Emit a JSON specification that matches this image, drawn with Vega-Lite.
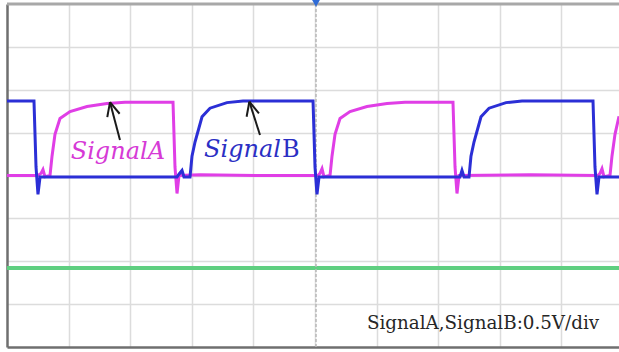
{
  "$schema": "https://vega.github.io/schema/vega-lite/v6.json",
  "width": 612,
  "height": 343,
  "autosize": {"type": "none"},
  "padding": {"left": 7, "top": 4, "right": 0, "bottom": 5},
  "background": "white",
  "config": {"view": {"stroke": null}},
  "datasets": {
    "sigA": [
      {"t": 0, "v": 0}, {"t": 0.503, "v": 0}, {"t": 0.552, "v": 0.05}, {"t": 0.584, "v": 0.14}, {"t": 0.617, "v": -0.03},
      {"t": 0.698, "v": 0}, {"t": 0.731, "v": 0.45}, {"t": 0.779, "v": 0.96}, {"t": 0.86, "v": 1.33}, {"t": 1.023, "v": 1.49},
      {"t": 1.299, "v": 1.61}, {"t": 1.623, "v": 1.68}, {"t": 1.916, "v": 1.71}, {"t": 2.695, "v": 1.71}, {"t": 2.727, "v": 0.2},
      {"t": 2.76, "v": -0.42}, {"t": 2.792, "v": 0}, {"t": 3.133, "v": 0.02}, {"t": 4.107, "v": 0}, {"t": 5.049, "v": 0},
      {"t": 5.081, "v": 0.05}, {"t": 5.114, "v": 0.16}, {"t": 5.146, "v": -0.03}, {"t": 5.244, "v": 0}, {"t": 5.276, "v": 0.45},
      {"t": 5.325, "v": 0.96}, {"t": 5.406, "v": 1.33}, {"t": 5.568, "v": 1.49}, {"t": 5.844, "v": 1.61}, {"t": 6.169, "v": 1.68},
      {"t": 6.461, "v": 1.71}, {"t": 7.24, "v": 1.71}, {"t": 7.273, "v": 0.2}, {"t": 7.305, "v": -0.42}, {"t": 7.338, "v": 0},
      {"t": 8.5, "v": 0.02}, {"t": 9.594, "v": 0}, {"t": 9.627, "v": 0.05}, {"t": 9.659, "v": 0.16}, {"t": 9.692, "v": -0.03},
      {"t": 9.789, "v": 0}, {"t": 9.821, "v": 0.45}, {"t": 9.87, "v": 0.96}, {"t": 9.935, "v": 1.38}
    ],
    "sigB": [
      {"t": 0, "v": 1.74}, {"t": 0.438, "v": 1.74}, {"t": 0.471, "v": 0.2}, {"t": 0.503, "v": -0.44}, {"t": 0.536, "v": -0.035},
      {"t": 2.76, "v": -0.035}, {"t": 2.792, "v": 0.03}, {"t": 2.841, "v": 0.12}, {"t": 2.873, "v": -0.035}, {"t": 2.971, "v": -0.035},
      {"t": 3.003, "v": 0.45}, {"t": 3.052, "v": 0.78}, {"t": 3.166, "v": 1.37}, {"t": 3.295, "v": 1.57}, {"t": 3.571, "v": 1.7},
      {"t": 3.831, "v": 1.74}, {"t": 4.968, "v": 1.74}, {"t": 5.0, "v": 0.2}, {"t": 5.032, "v": -0.44}, {"t": 5.065, "v": -0.035},
      {"t": 7.354, "v": -0.035}, {"t": 7.386, "v": 0.12}, {"t": 7.419, "v": -0.035}, {"t": 7.5, "v": -0.035}, {"t": 7.532, "v": 0.45},
      {"t": 7.581, "v": 0.78}, {"t": 7.695, "v": 1.37}, {"t": 7.825, "v": 1.57}, {"t": 8.101, "v": 1.7}, {"t": 8.36, "v": 1.74},
      {"t": 9.513, "v": 1.74}, {"t": 9.545, "v": 0.2}, {"t": 9.578, "v": -0.44}, {"t": 9.61, "v": -0.035}, {"t": 9.935, "v": -0.035}
    ],
    "sigC": [
      {"t": 0, "v": -2.16}, {"t": 9.935, "v": -2.16}
    ],
    "arrows": [
      {"seg": "A1", "ord": 1, "t": 1.834, "v": 0.83}, {"seg": "A1", "ord": 2, "t": 1.672, "v": 1.71},
      {"seg": "A2", "ord": 1, "t": 1.628, "v": 1.36}, {"seg": "A2", "ord": 2, "t": 1.672, "v": 1.71},
      {"seg": "A3", "ord": 1, "t": 1.828, "v": 1.44}, {"seg": "A3", "ord": 2, "t": 1.672, "v": 1.71},
      {"seg": "B1", "ord": 1, "t": 4.107, "v": 0.945}, {"seg": "B1", "ord": 2, "t": 3.934, "v": 1.72},
      {"seg": "B2", "ord": 1, "t": 3.89, "v": 1.37}, {"seg": "B2", "ord": 2, "t": 3.934, "v": 1.72},
      {"seg": "B3", "ord": 1, "t": 4.09, "v": 1.45}, {"seg": "B3", "ord": 2, "t": 3.934, "v": 1.72}
    ],
    "labelsItalic": [
      {"t": 2.565, "v": 0.385, "text": "SignalA", "sig": "A"},
      {"t": 4.448, "v": 0.43, "text": "Signal", "sig": "B"}
    ],
    "labelsUpright": [
      {"t": 4.448, "v": 0.43, "text": "B", "sig": "B"}
    ],
    "note": [
      {"t": 5.844, "v": -3.58, "text": "SignalA,SignalB:0.5V/div"}
    ]
  },
  "layer": [
    {
      "data": {"name": "sigC"},
      "mark": {"type": "line", "color": "#5fcf80", "strokeWidth": 4},
      "encoding": {
        "x": {"field": "t", "type": "quantitative", "scale": {"domain": [0, 9.935], "nice": false, "zero": false},
          "axis": {"title": null, "values": [1, 2, 3, 4, 5, 6, 7, 8, 9], "grid": true, "gridColor": "#dcdcdc", "gridWidth": 1.5,
            "labels": false, "ticks": false, "domain": true, "domainColor": "#6f6f6f", "domainWidth": 2.5}},
        "y": {"field": "v", "type": "quantitative", "scale": {"domain": [-4, 4], "nice": false, "zero": false},
          "axis": {"title": null, "values": [-3, -2, -1, 0, 1, 2, 3], "grid": true, "gridColor": "#dcdcdc", "gridWidth": 1.5,
            "labels": false, "ticks": false, "domain": true, "domainColor": "#6f6f6f", "domainWidth": 2.5}}
      }
    },
    {
      "data": {"values": [{}]},
      "mark": {"type": "rule", "color": "#b8b8b8", "strokeWidth": 1.5, "strokeDash": [3, 2]},
      "encoding": {"x": {"datum": 5.016, "type": "quantitative"}}
    },
    {
      "data": {"values": [{}]},
      "mark": {"type": "rule", "color": "#a8a8a8", "strokeWidth": 3},
      "encoding": {"y": {"datum": 4, "type": "quantitative"}}
    },
    {
      "data": {"name": "sigA"},
      "mark": {"type": "line", "color": "#e03ee6", "strokeWidth": 3},
      "encoding": {
        "x": {"field": "t", "type": "quantitative"},
        "y": {"field": "v", "type": "quantitative"}
      }
    },
    {
      "data": {"name": "sigB"},
      "mark": {"type": "line", "color": "#2b2fd6", "strokeWidth": 3},
      "encoding": {
        "x": {"field": "t", "type": "quantitative"},
        "y": {"field": "v", "type": "quantitative"}
      }
    },
    {
      "data": {"name": "arrows"},
      "mark": {"type": "line", "color": "#1a1a1a", "strokeWidth": 2},
      "encoding": {
        "x": {"field": "t", "type": "quantitative"},
        "y": {"field": "v", "type": "quantitative"},
        "detail": {"field": "seg"},
        "order": {"field": "ord"}
      }
    },
    {
      "data": {"name": "labelsItalic"},
      "mark": {"type": "text", "font": "DejaVu Serif", "fontStyle": "italic", "fontSize": 24, "baseline": "alphabetic", "align": "right"},
      "encoding": {
        "x": {"field": "t", "type": "quantitative"},
        "y": {"field": "v", "type": "quantitative"},
        "text": {"field": "text"},
        "color": {"field": "sig", "type": "nominal", "scale": {"domain": ["A", "B"], "range": ["#d63ad6", "#2b2fc4"]}, "legend": null}
      }
    },
    {
      "data": {"name": "labelsUpright"},
      "mark": {"type": "text", "font": "DejaVu Serif", "fontSize": 24, "baseline": "alphabetic", "align": "left", "dx": 1},
      "encoding": {
        "x": {"field": "t", "type": "quantitative"},
        "y": {"field": "v", "type": "quantitative"},
        "text": {"field": "text"},
        "color": {"field": "sig", "type": "nominal", "legend": null}
      }
    },
    {
      "data": {"name": "note"},
      "mark": {"type": "text", "font": "DejaVu Serif", "fontSize": 18.3, "align": "left", "baseline": "alphabetic", "color": "#262626"},
      "encoding": {
        "x": {"field": "t", "type": "quantitative"},
        "y": {"field": "v", "type": "quantitative"},
        "text": {"field": "text"}
      }
    },
    {
      "data": {"values": [{}]},
      "mark": {"type": "point", "shape": "triangle-down", "filled": true, "color": "#2f6bd6", "size": 70, "opacity": 1},
      "encoding": {
        "x": {"datum": 5.016, "type": "quantitative"},
        "y": {"datum": 4.02, "type": "quantitative"}
      }
    }
  ]
}
